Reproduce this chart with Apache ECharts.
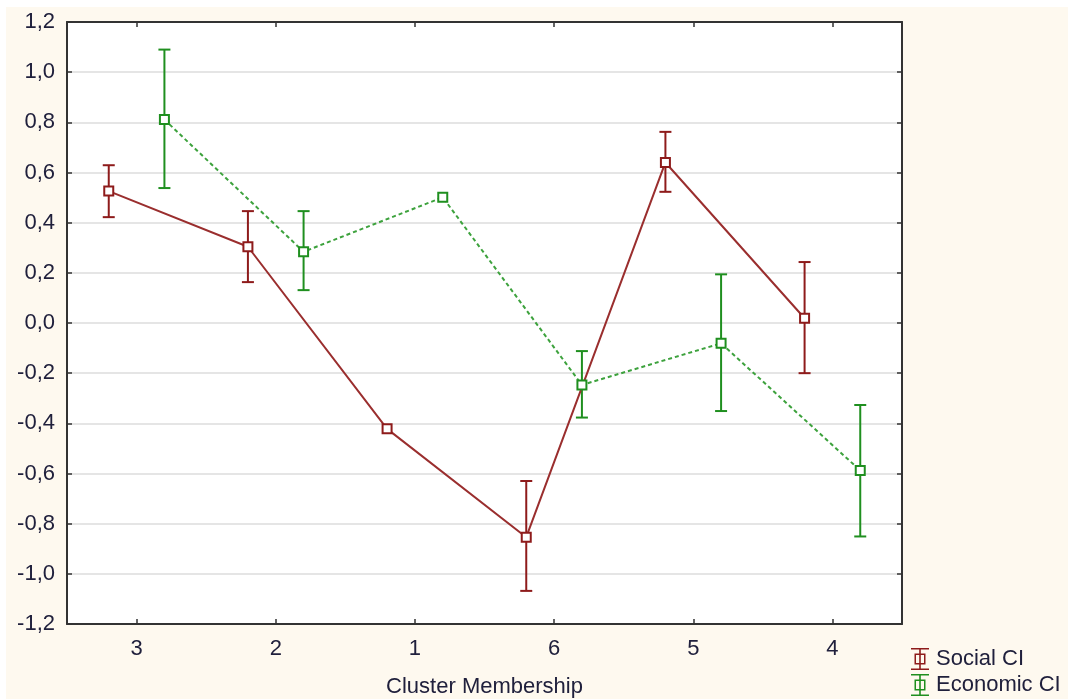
<!DOCTYPE html>
<html>
<head>
<meta charset="utf-8">
<script src="https://cdn.jsdelivr.net/npm/echarts@6/dist/echarts.min.js"></script>
<style>
html,body{margin:0;padding:0;background:#fff;width:1068px;height:699px;overflow:hidden}
#bg{position:absolute;left:6px;top:7px;width:1062px;height:692px;background:#fef9ef}
#chart{position:absolute;left:0;top:0;width:1068px;height:699px}
</style>
</head>
<body>
<div id="bg"></div>
<div id="chart"></div>
<script>
// ---- data ----
const categories = ['3', '2', '1', '6', '5', '4'];
const socialMean = [0.526, 0.304, -0.422, -0.854, 0.640, 0.019];
const socialLow  = [0.422, 0.163, -0.422, -1.068, 0.523, -0.200];
const socialHigh = [0.629, 0.446, -0.422, -0.630, 0.762, 0.243];
const econMean   = [0.811, 0.284, 0.501, -0.247, -0.081, -0.588];
const econLow    = [0.538, 0.131, 0.501, -0.377, -0.351, -0.851];
const econHigh   = [1.090, 0.446, 0.501, -0.112, 0.194, -0.327];
const yTicks = [-1.2, 1.2, 0.2]; // min, max, interval
const seriesNames = ['Social CI', 'Economic CI'];

const socialOffset = -0.2, econOffset = 0.2;
const socialColor = '#8e1b1b';
const econColor = '#1f8f1f';
const textColor = '#20203c';
const font = "'Liberation Sans', Arial, sans-serif";
const fs = 22;

function pts(mean, off) { return mean.map((v, i) => [i + 0.5 + off, v]); }
function bars(lo, hi, off) { return lo.map((v, i) => [i + 0.5 + off, v, hi[i]]); }

function errRender(color) {
  return function (params, api) {
    const x = api.value(0), lo = api.value(1), hi = api.value(2);
    if (Math.abs(hi - lo) < 1e-6) return null;
    const p1 = api.coord([x, hi]), p2 = api.coord([x, lo]);
    const hw = 6;
    const st = { stroke: color, lineWidth: 2 };
    return {
      type: 'group',
      children: [
        { type: 'line', shape: { x1: p1[0], y1: p1[1], x2: p2[0], y2: p2[1] }, style: st },
        { type: 'line', shape: { x1: p1[0] - hw, y1: p1[1], x2: p1[0] + hw, y2: p1[1] }, style: st },
        { type: 'line', shape: { x1: p2[0] - hw, y1: p2[1], x2: p2[0] + hw, y2: p2[1] }, style: st }
      ]
    };
  };
}

const iconPath = 'path://M0 0H18V1.6H0Z M0 20.4H18V22H0Z M8.2 0H9.8V22H8.2Z M3.5 5.5H14.5V16.5H3.5Z M5 7V15H13V7Z';

const axisLineStyle = { show: true, onZero: false, lineStyle: { color: '#333', width: 2 } };
const tickStyle = { color: '#333', width: 1.5 };

const chart = echarts.init(document.getElementById('chart'), null, { renderer: 'canvas' });
chart.setOption({
  backgroundColor: 'transparent',
  animation: false,
  textStyle: { fontFamily: font },
  grid: {
    left: 67, right: 166, top: 22, bottom: 75, show: true, backgroundColor: '#fff', borderWidth: 0,
    containLabel: false, outerBoundsMode: 'none'
  },
  legend: {
    orient: 'vertical',
    left: 911, top: 648,
    padding: 0,
    itemWidth: 18, itemHeight: 22, itemGap: 4,
    icon: iconPath,
    itemStyle: { borderWidth: 0 },
    textStyle: { fontSize: fs, color: textColor, fontFamily: font, padding: [0, 0, 0, 2] },
    data: seriesNames
  },
  xAxis: [
    {
      type: 'category', data: categories, position: 'bottom', boundaryGap: true,
      name: 'Cluster Membership', nameLocation: 'middle', nameGap: 52,
      nameTextStyle: { fontSize: fs, color: textColor, fontFamily: font },
      axisLine: axisLineStyle,
      axisTick: { show: true, inside: true, alignWithLabel: true, length: 5, lineStyle: tickStyle },
      axisLabel: { fontSize: fs, color: textColor, margin: 14, fontFamily: font },
      splitLine: { show: false }
    },
    { type: 'value', min: 0, max: 6, show: false },
    {
      type: 'category', data: categories, position: 'top', boundaryGap: true,
      axisLine: axisLineStyle,
      axisTick: { show: true, inside: true, alignWithLabel: true, length: 5, lineStyle: tickStyle },
      axisLabel: { show: false },
      splitLine: { show: false }
    }
  ],
  yAxis: [
    {
      type: 'value', min: yTicks[0], max: yTicks[1], interval: yTicks[2], position: 'left',
      axisLine: axisLineStyle,
      axisTick: { show: true, inside: true, length: 5, lineStyle: tickStyle },
      axisLabel: {
        fontSize: fs, color: textColor, margin: 12, fontFamily: font,
        formatter: v => (Math.abs(v) < 1e-9 ? 0 : v).toFixed(1).replace('.', ',')
      },
      splitLine: { show: true, lineStyle: { color: '#dcdcdc', width: 1.5 } }
    },
    {
      type: 'value', min: yTicks[0], max: yTicks[1], interval: yTicks[2], position: 'right',
      axisLine: axisLineStyle,
      axisTick: { show: true, inside: true, length: 5, lineStyle: tickStyle },
      axisLabel: { show: false },
      splitLine: { show: false }
    }
  ],
  series: [
    {
      name: seriesNames[0], type: 'custom', xAxisIndex: 1, yAxisIndex: 0,
      renderItem: errRender(socialColor), data: bars(socialLow, socialHigh, socialOffset),
      itemStyle: { color: socialColor }, encode: { x: 0, y: [1, 2] }, z: 3, silent: true
    },
    {
      name: seriesNames[0], type: 'line', xAxisIndex: 1, yAxisIndex: 0,
      data: pts(socialMean, socialOffset),
      symbol: 'emptyRect', symbolSize: 9,
      itemStyle: { color: socialColor, borderWidth: 1.5 },
      lineStyle: { color: '#9a2e2e', width: 2 },
      z: 4
    },
    {
      name: seriesNames[1], type: 'custom', xAxisIndex: 1, yAxisIndex: 0,
      renderItem: errRender(econColor), data: bars(econLow, econHigh, econOffset),
      itemStyle: { color: econColor }, encode: { x: 0, y: [1, 2] }, z: 3, silent: true
    },
    {
      name: seriesNames[1], type: 'line', xAxisIndex: 1, yAxisIndex: 0,
      data: pts(econMean, econOffset),
      symbol: 'emptyRect', symbolSize: 9,
      itemStyle: { color: econColor, borderWidth: 1.5 },
      lineStyle: { color: '#3da23d', width: 2, type: [4, 3] },
      z: 4
    }
  ]
});
</script>
</body>
</html>
